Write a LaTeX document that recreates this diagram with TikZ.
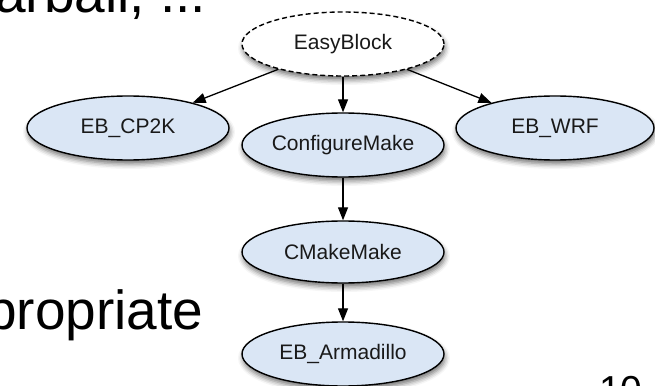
\documentclass[tikz,border=0pt]{standalone}
\usepackage{fontspec}
\setmainfont{Liberation Sans}
\usetikzlibrary{shapes.geometric,arrows.meta,shadows.blur}
\definecolor{nodefill}{RGB}{218,230,245}
\begin{document}
\begin{tikzpicture}[x=1pt,y=-1pt,
  gnode/.style={ellipse, draw=black, line width=1.4pt, fill=nodefill,
    minimum width=202pt, minimum height=64pt, inner sep=0pt,
    font=\fontsize{21}{24}\selectfont, text=black!90,
    blur shadow={shadow xshift=1pt, shadow yshift=-4pt, shadow blur radius=5pt, shadow opacity=55}},
  basenode/.style={gnode, fill=white, dash pattern=on 5pt off 3pt},
  edge/.style={-{Triangle[length=13pt,width=10pt]}, line width=1.3pt},
  bigtext/.style={font=\fontsize{55}{60}\selectfont, anchor=base west, inner sep=0pt},
  pagenum/.style={font=\fontsize{39}{44}\selectfont, anchor=base west, inner sep=0pt}]
\useasboundingbox (0,0) rectangle (655,385);
\node[bigtext] (t1) at (-5,13) {arball, ...};
\node[bigtext] (t2) at (-14,329) {propriate};
\node[pagenum] (t3) at (599,403) {10};
\node[basenode] (eb) at (343,44) {EasyBlock};
\node[gnode] (cp2k) at (128,128) {EB\_CP2K};
\node[gnode] (cm) at (343,145) {ConfigureMake};
\node[gnode, minimum width=198pt] (wrf) at (555,128) {EB\_WRF};
\node[gnode, minimum height=62pt] (cmake) at (343,252) {CMakeMake};
\node[gnode] (arma) at (343,354) {EB\_Armadillo};
\draw[edge] (eb) -- (cp2k);
\draw[edge] (eb) -- (cm);
\draw[edge] (eb) -- (wrf);
\draw[edge] (cm) -- (cmake);
\draw[edge] (cmake) -- (arma);
\end{tikzpicture}
\end{document}
